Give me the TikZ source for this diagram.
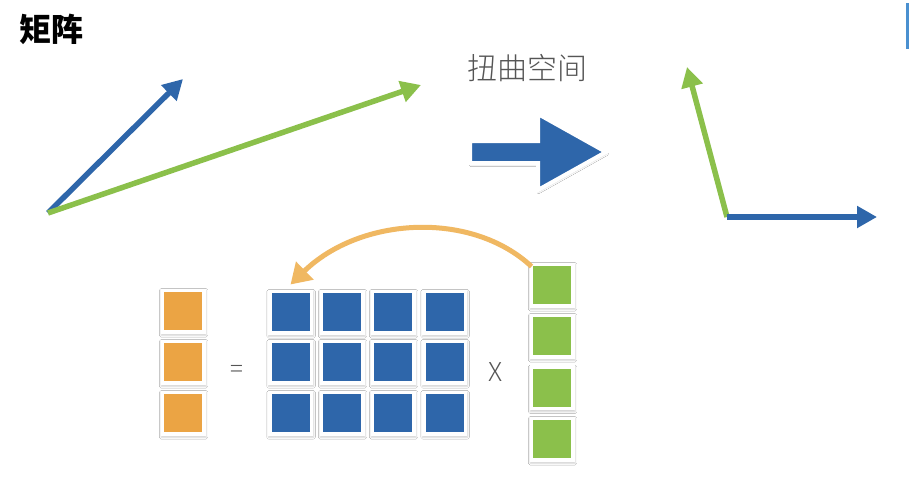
\documentclass[tikz,border=0pt]{standalone}
\usepackage{fontspec}
\newfontfamily\cjk{Noto Sans CJK SC}
\newfontfamily\cjkl{Noto Sans CJK SC Light}
\usetikzlibrary{arrows.meta,shadows.blur}
\definecolor{mblue}{HTML}{2E66AA}
\definecolor{mgreen}{HTML}{8BC04B}
\definecolor{morange}{HTML}{EBA444}
\definecolor{marc}{HTML}{F0B862}
\definecolor{mgray}{HTML}{555555}
\definecolor{mbar}{HTML}{4A90D0}
\tikzset{
  shad/.style={blur shadow={shadow xshift=0.6pt, shadow yshift=-1.8pt, shadow blur radius=1.8pt, shadow opacity=18}},
  cell/.style={fill=white, minimum size=45pt, inner sep=0pt, outer sep=0pt, shad,
    path picture={\fill[#1] ([shift={(3.5pt,3.5pt)}]path picture bounding box.south west)
      rectangle ([shift={(-3.5pt,-3.5pt)}]path picture bounding box.north east);}},
  bcell/.style={cell=mblue},
  gcell/.style={cell=mgreen},
  ocell/.style={cell=morange},
  vecB/.style={draw=mblue, line width=5.5pt, -{Triangle[length=20pt,width=21pt]}},
  vecG/.style={draw=mgreen, line width=5.5pt, -{Triangle[length=20pt,width=21pt]}},
  curved/.style={draw=marc, line width=5pt, -{Triangle[length=20pt,width=24pt]}},
}
\begin{document}
\begin{tikzpicture}[x=1pt,y=-1pt]
\useasboundingbox (0,0) rectangle (909,492);
\fill[white] (0,0) rectangle (909,492);
% side bar
\fill[mbar] (905.5,3) rectangle (909,49);
% titles
\node[font=\cjk\bfseries\fontsize{32}{32}\selectfont, inner sep=0pt] (title) at (51,29) {矩阵};
\node[font=\cjkl\fontsize{30}{30}\selectfont, text=mgray, inner sep=0pt] (warp) at (527,68) {扭曲空间};
% left vectors
\coordinate (o1) at (48,213);
\coordinate (tb1) at (183,79);
\coordinate (tg1) at (421,85);
\draw[vecB] (o1) -- (tb1);
\draw[vecG] (o1) -- (tg1);
% right vectors
\coordinate (o2) at (727,217);
\coordinate (tg2) at (687,67);
\coordinate (tb2) at (877,217);
\draw[vecG] (o2) -- (tg2);
\draw[vecB] (o2) -- (tb2);
% big block arrow
\path[fill=mblue, draw=white, line width=4pt, line join=miter, shad]
  (470,141) -- (538,141) -- (538,114) -- (606,152) -- (538,190) -- (538,163) -- (470,163) -- cycle;
% orange column
\foreach \i/\y in {1/311, 2/362, 3/413} {
  \node[ocell] (o\i) at (183,\y) {};
}
% blue matrix
\foreach \r/\y in {1/312, 2/362, 3/413} {
  \foreach \c/\x in {1/290.5, 2/342, 3/393, 4/444.5} {
    \node[bcell] (b\r\c) at (\x,\y) {};
  }
}
% green column
\foreach \i/\y in {1/285, 2/336, 3/387.5, 4/439} {
  \node[gcell] (g\i) at (552,\y) {};
}
% operators
\node[font=\cjkl\fontsize{24}{24}\selectfont, text=mgray] (eq) at (237,371) {=};
\node[font=\cjkl\fontsize{26}{26}\selectfont, text=mgray] (times) at (496,372) {X};
% curved arrow
\draw[curved] ([shift={(2pt,-4pt)}]g1.north west) .. controls +(-60,-56) and +(70,-68) .. ([yshift=5pt]b11.north);
\end{tikzpicture}
\end{document}
